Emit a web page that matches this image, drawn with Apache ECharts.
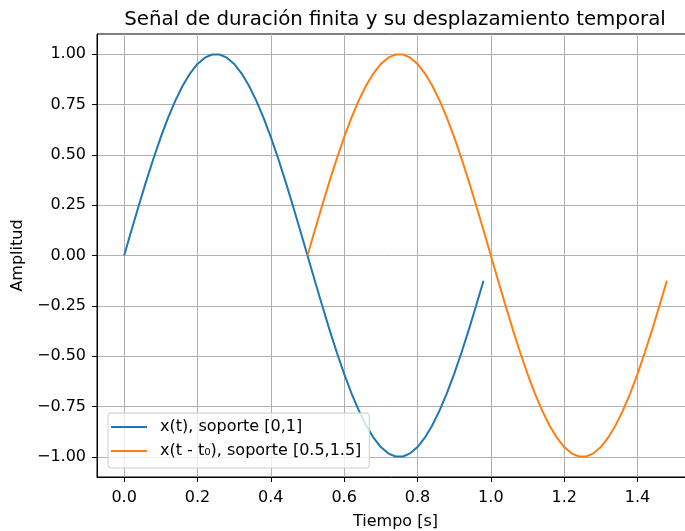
<!DOCTYPE html>
<html>
<head>
<meta charset="utf-8">
<script src="https://cdn.jsdelivr.net/npm/echarts@6/dist/echarts.min.js"></script>
<style>
  html, body { margin: 0; padding: 0; background: #fff; }
  #chart { width: 685px; height: 531px; }
</style>
</head>
<body>
<div id="chart"></div>
<script>
// Sample times of x(t) on its support [0,1)
const tOriginal = [
  0.00, 0.02, 0.04, 0.06, 0.08, 0.10, 0.12, 0.14, 0.16, 0.18,
  0.20, 0.22, 0.24, 0.26, 0.28, 0.30, 0.32, 0.34, 0.36, 0.38,
  0.40, 0.42, 0.44, 0.46, 0.48, 0.50, 0.52, 0.54, 0.56, 0.58,
  0.60, 0.62, 0.64, 0.66, 0.68, 0.70, 0.72, 0.74, 0.76, 0.78,
  0.80, 0.82, 0.84, 0.86, 0.88, 0.90, 0.92, 0.94, 0.96, 0.98
];
// Sample times of the delayed copy x(t - t0), support [0.5,1.5)
const tShifted = [
  0.50, 0.52, 0.54, 0.56, 0.58, 0.60, 0.62, 0.64, 0.66, 0.68,
  0.70, 0.72, 0.74, 0.76, 0.78, 0.80, 0.82, 0.84, 0.86, 0.88,
  0.90, 0.92, 0.94, 0.96, 0.98, 1.00, 1.02, 1.04, 1.06, 1.08,
  1.10, 1.12, 1.14, 1.16, 1.18, 1.20, 1.22, 1.24, 1.26, 1.28,
  1.30, 1.32, 1.34, 1.36, 1.38, 1.40, 1.42, 1.44, 1.46, 1.48
];
// Signal amplitudes (one full sine period)
const amplitude = [
  0.0000, 0.1253, 0.2487, 0.3681, 0.4818, 0.5878, 0.6845, 0.7705, 0.8443, 0.9048,
  0.9511, 0.9823, 0.9980, 0.9980, 0.9823, 0.9511, 0.9048, 0.8443, 0.7705, 0.6845,
  0.5878, 0.4818, 0.3681, 0.2487, 0.1253, 0.0000, -0.1253, -0.2487, -0.3681, -0.4818,
  -0.5878, -0.6845, -0.7705, -0.8443, -0.9048, -0.9511, -0.9823, -0.9980, -0.9980, -0.9823,
  -0.9511, -0.9048, -0.8443, -0.7705, -0.6845, -0.5878, -0.4818, -0.3681, -0.2487, -0.1253
];
// Shifted signal keeps the same amplitudes
const amplitudeShifted = amplitude;

const xTicks = [0.0, 0.2, 0.4, 0.6, 0.8, 1.0, 1.2, 1.4];
const yTicks = [-1.00, -0.75, -0.50, -0.25, 0.00, 0.25, 0.50, 0.75, 1.00];

const seriesNames = ['x(t), soporte [0,1]', 'x(t - t\u2080), soporte [0.5,1.5]'];
const colors = ['#1f77b4', '#ff7f0e'];

const FONT = 'DejaVu Sans';
const fmtMinus = (s) => s.replace('-', '\u2212');

const chart = echarts.init(document.getElementById('chart'), null, { renderer: 'canvas' });

chart.setOption({
  animation: false,
  backgroundColor: '#ffffff',
  title: {
    text: 'Señal de duración finita y su desplazamiento temporal',
    left: 390, textAlign: 'center',
    top: 5,
    textStyle: { fontFamily: FONT, fontSize: 19.8, fontWeight: 'normal', color: '#000' }
  },
  grid: {
    left: 97, top: 34, width: 597, bottom: 54,
    outerBoundsMode: 'none',
    containLabel: false,
    show: true, borderColor: '#000', borderWidth: 1, backgroundColor: 'transparent'
  },
  legend: {
    orient: 'vertical',
    left: 108, top: 413,
    padding: [6, 8, 9, 3],
    itemGap: 8,
    itemWidth: 36, itemHeight: 2,
    icon: 'rect',
    backgroundColor: 'rgba(255,255,255,0.8)',
    borderColor: '#cccccc', borderWidth: 1, borderRadius: 3,
    textStyle: { fontFamily: FONT, fontSize: 16, color: '#000', padding: [0, 0, 0, 8] },
    data: seriesNames
  },
  xAxis: {
    type: 'value',
    min: -0.074, max: 1.554,
    name: 'Tiempo [s]', nameLocation: 'middle', nameGap: 37,
    nameTextStyle: { fontFamily: FONT, fontSize: 16, color: '#000' },
    axisLine: { show: true, onZero: false, lineStyle: { color: '#000', width: 1 } },
    axisTick: { show: true, inside: false, length: 5, customValues: xTicks, lineStyle: { color: '#000', width: 1 } },
    axisLabel: {
      customValues: xTicks, margin: 13,
      fontFamily: FONT, fontSize: 16, color: '#000',
      formatter: (v) => fmtMinus(v.toFixed(1))
    },
    splitLine: { show: true, lineStyle: { color: '#b0b0b0', width: 1 } }
  },
  yAxis: {
    type: 'value',
    min: -1.1, max: 1.1,
    name: 'Amplitud', nameLocation: 'middle', nameGap: 70, nameRotate: 90,
    nameTextStyle: { fontFamily: FONT, fontSize: 16, color: '#000' },
    axisLine: { show: true, onZero: false, lineStyle: { color: '#000', width: 1 } },
    axisTick: { show: true, inside: false, length: 5, customValues: yTicks, lineStyle: { color: '#000', width: 1 } },
    axisLabel: {
      customValues: yTicks, margin: 11,
      fontFamily: FONT, fontSize: 16, color: '#000',
      formatter: (v) => fmtMinus(v.toFixed(2))
    },
    splitLine: { show: true, lineStyle: { color: '#b0b0b0', width: 1 } }
  },
  series: [
    {
      name: seriesNames[0], type: 'line',
      data: tOriginal.map((t, i) => [t, amplitude[i]]),
      showSymbol: false, symbol: 'none',
      lineStyle: { color: colors[0], width: 2 },
      itemStyle: { color: colors[0] },
      z: 3
    },
    {
      name: seriesNames[1], type: 'line',
      data: tShifted.map((t, i) => [t, amplitudeShifted[i]]),
      showSymbol: false, symbol: 'none',
      lineStyle: { color: colors[1], width: 2 },
      itemStyle: { color: colors[1] },
      z: 3
    }
  ]
});
</script>
</body>
</html>
